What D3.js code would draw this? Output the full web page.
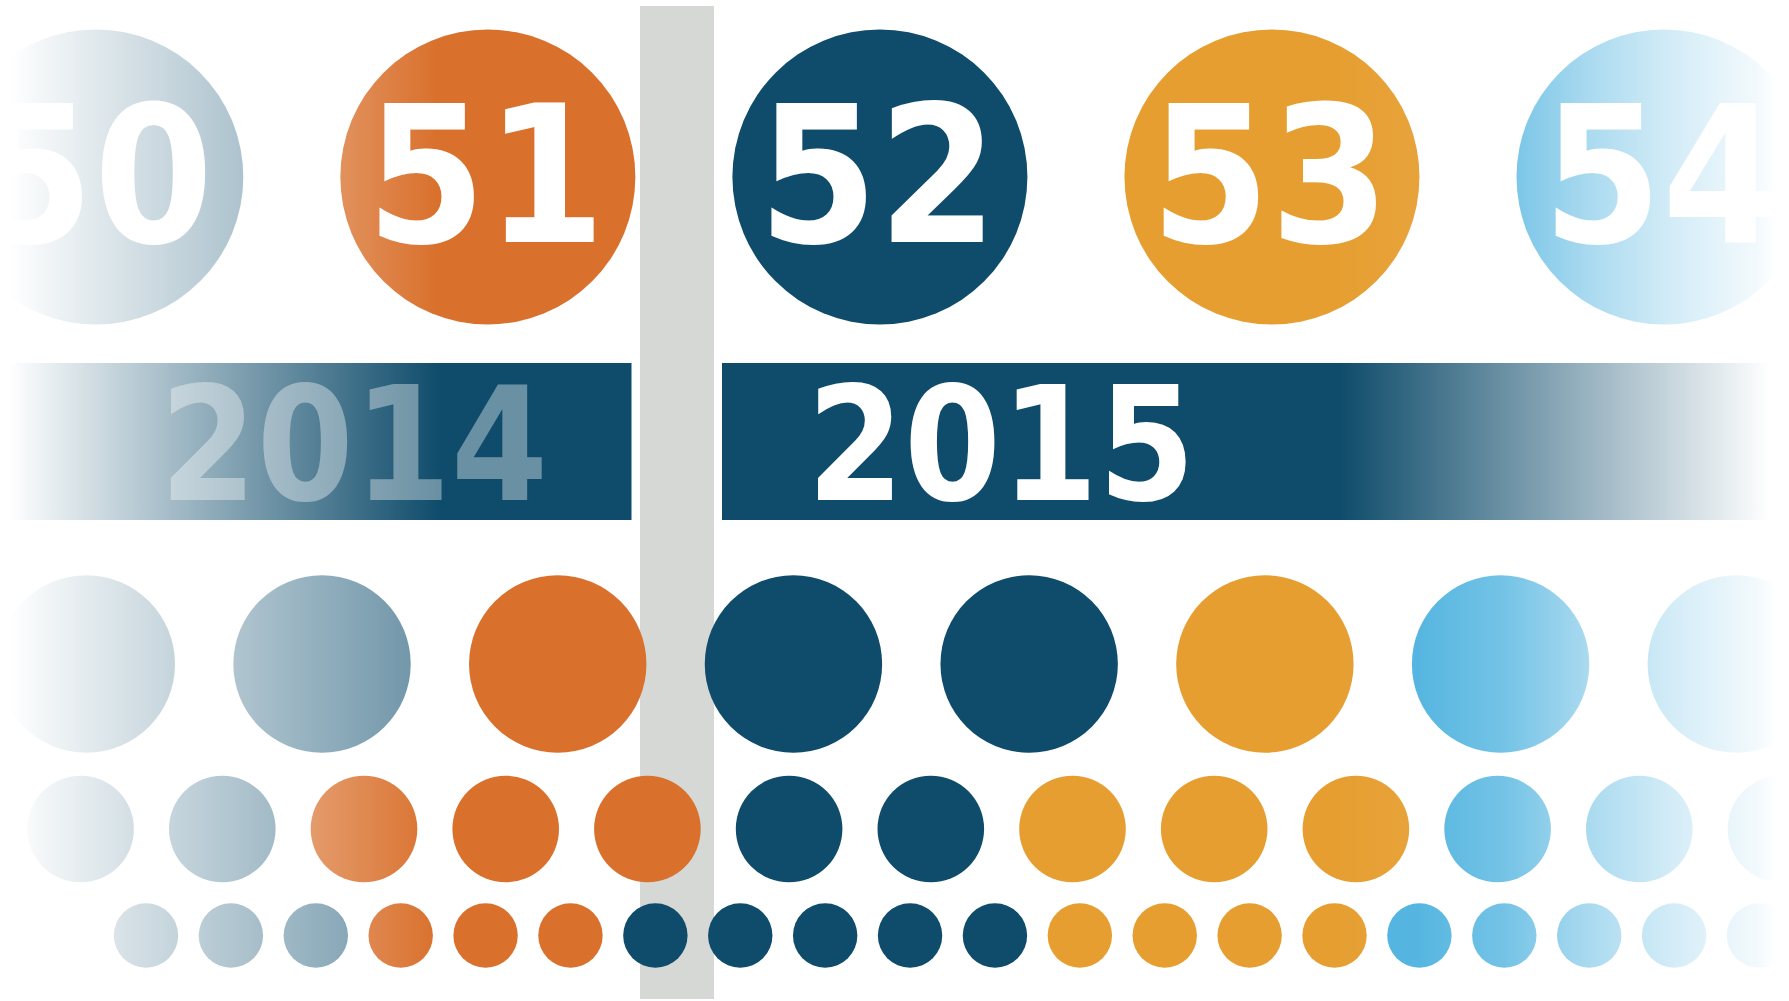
<!DOCTYPE html>
<html>
<head>
<meta charset="utf-8">
<script src="https://cdn.jsdelivr.net/npm/d3@7"></script>
<style>
  html, body { margin: 0; padding: 0; background: #fff; overflow: hidden; }
</style>
</head>
<body>
<div id="chart"></div>
<script>
// weeks shown in the top row and their colours
const weeks = [50, 51, 52, 53, 54];
const weekColors = ["#6890a4", "#d9702c", "#0f4c6b", "#e69e30", "#4db2df"];
const years = ["2014", "2015"];

// the rows of smaller dots, each dot tagged with its week
const rowBig = [50, 50, 51, 52, 52, 53, 54, 54];
const rowMid = [50, 50, 51, 51, 51, 52, 52, 53, 53, 53, 54, 54, 54];
const rowSmall = [50, 50, 50, 51, 51, 51, 52, 52, 52, 52, 52, 53, 53, 53, 53, 54, 54, 54, 54, 54];

const width = 1789;
const height = 1001;
const font = "'DejaVu Sans Condensed', 'DejaVu Sans', sans-serif";

const color = d3.scaleOrdinal().domain(weeks).range(weekColors);

const svg = d3.select("#chart")
  .append("svg")
    .attr("width", width)
    .attr("height", height)
    .attr("viewBox", `0 0 ${width} ${height}`);

const defs = svg.append("defs");

function addGradient(id, stops, units) {
  const g = defs.append("linearGradient")
    .attr("id", id)
    .attr("x1", "0%").attr("x2", "100%")
    .attr("y1", "0%").attr("y2", "0%");
  if (units) {
    g.attr("gradientUnits", "userSpaceOnUse")
      .attr("x1", 0).attr("x2", width).attr("y1", 0).attr("y2", 0);
  }
  stops.forEach(s => {
    g.append("stop")
      .attr("offset", s[0])
      .attr("stop-color", s[2] || "#fff")
      .attr("stop-opacity", s[1]);
  });
}

// gray divider between the years
svg.append("rect")
  .attr("x", 640)
  .attr("y", 6)
  .attr("width", 74)
  .attr("height", 993)
  .attr("fill", "#d6d8d5");

// top row: one big circle per week with its number
const xTop = d3.scaleLinear().domain([50, 54]).range([95.8, 1664]);
const topY = 177, topR = 147.5;

svg.selectAll("circle.week")
  .data(weeks)
  .join("circle")
    .attr("class", "week")
    .attr("cx", d => xTop(d))
    .attr("cy", topY)
    .attr("r", topR)
    .attr("fill", d => color(d));

svg.selectAll("text.week")
  .data(weeks)
  .join("text")
    .attr("class", "week")
    .attr("x", d => xTop(d) - 2)
    .attr("y", topY + 65)
    .attr("text-anchor", "middle")
    .attr("fill", "#fff")
    .style("font-family", font)
    .style("font-weight", "bold")
    .style("font-size", "191px")
    .text(d => d);

// rows of dots, each one 0.6 of the one above
const rows = [
  {name: "big", data: rowBig, cy: 664, r: 88.7, first: 86.3, last: 1736.3},
  {name: "mid", data: rowMid, cy: 829, r: 53.3, first: 80.6, last: 1781},
  {name: "small", data: rowSmall, cy: 935.5, r: 32.2, first: 146, last: 1759}
];

rows.forEach(row => {
  const x = d3.scaleLinear()
    .domain([0, row.data.length - 1])
    .range([row.first, row.last]);

  svg.append("g")
    .attr("class", "row-" + row.name)
    .selectAll("circle")
    .data(row.data)
    .join("circle")
      .attr("cx", (d, i) => x(i))
      .attr("cy", row.cy)
      .attr("r", row.r)
      .attr("fill", d => color(d));
});

// white fades on both edges
const fades = [
  {id: "fadeL", x: 0, w: 440, stops: [[0, 1], [0.02, 1], [1, 0]]},
  {id: "fadeR", x: 1330, w: width - 1330,
    stops: [[0, 0], [0.19, 0.05], [0.38, 0.22], [0.57, 0.53], [0.75, 0.76], [0.93, 0.93], [0.97, 1], [1, 1]]}
];

fades.forEach(f => {
  addGradient(f.id, f.stops);
  svg.append("rect")
    .attr("x", f.x)
    .attr("y", 0)
    .attr("width", f.w)
    .attr("height", height)
    .attr("fill", `url(#${f.id})`);
});

// year bars, with their own straight fade at the ends
const navy = color(52);
addGradient("barFade", [
  [0, 0, navy], [8.8 / width, 0, navy], [440 / width, 1, navy],
  [1340 / width, 1, navy], [1770 / width, 0, navy], [1, 0, navy]
], true);

const bars = [
  {year: years[0], x0: 8, x1: 631.5, anchor: "end", tx: 548, op: 0.38},
  {year: years[1], x0: 722, x1: width, anchor: "start", tx: 807, op: 1}
];
const barY = 363, barH = 157;

svg.selectAll("rect.year")
  .data(bars)
  .join("rect")
    .attr("class", "year")
    .attr("x", d => d.x0)
    .attr("y", barY)
    .attr("width", d => d.x1 - d.x0)
    .attr("height", barH)
    .attr("fill", "url(#barFade)");

svg.selectAll("text.year")
  .data(bars)
  .join("text")
    .attr("class", "year")
    .attr("x", d => d.tx)
    .attr("y", 500)
    .attr("text-anchor", d => d.anchor)
    .attr("fill", "#fff")
    .attr("fill-opacity", d => d.op)
    .style("font-family", font)
    .style("font-weight", "bold")
    .style("font-size", "159px")
    .text(d => d.year)
    .each(function() {
      // the original lettering is a touch narrower
      const w = this.getComputedTextLength();
      d3.select(this)
        .attr("textLength", w * 0.975)
        .attr("lengthAdjust", "spacingAndGlyphs");
    });
</script>
</body>
</html>
